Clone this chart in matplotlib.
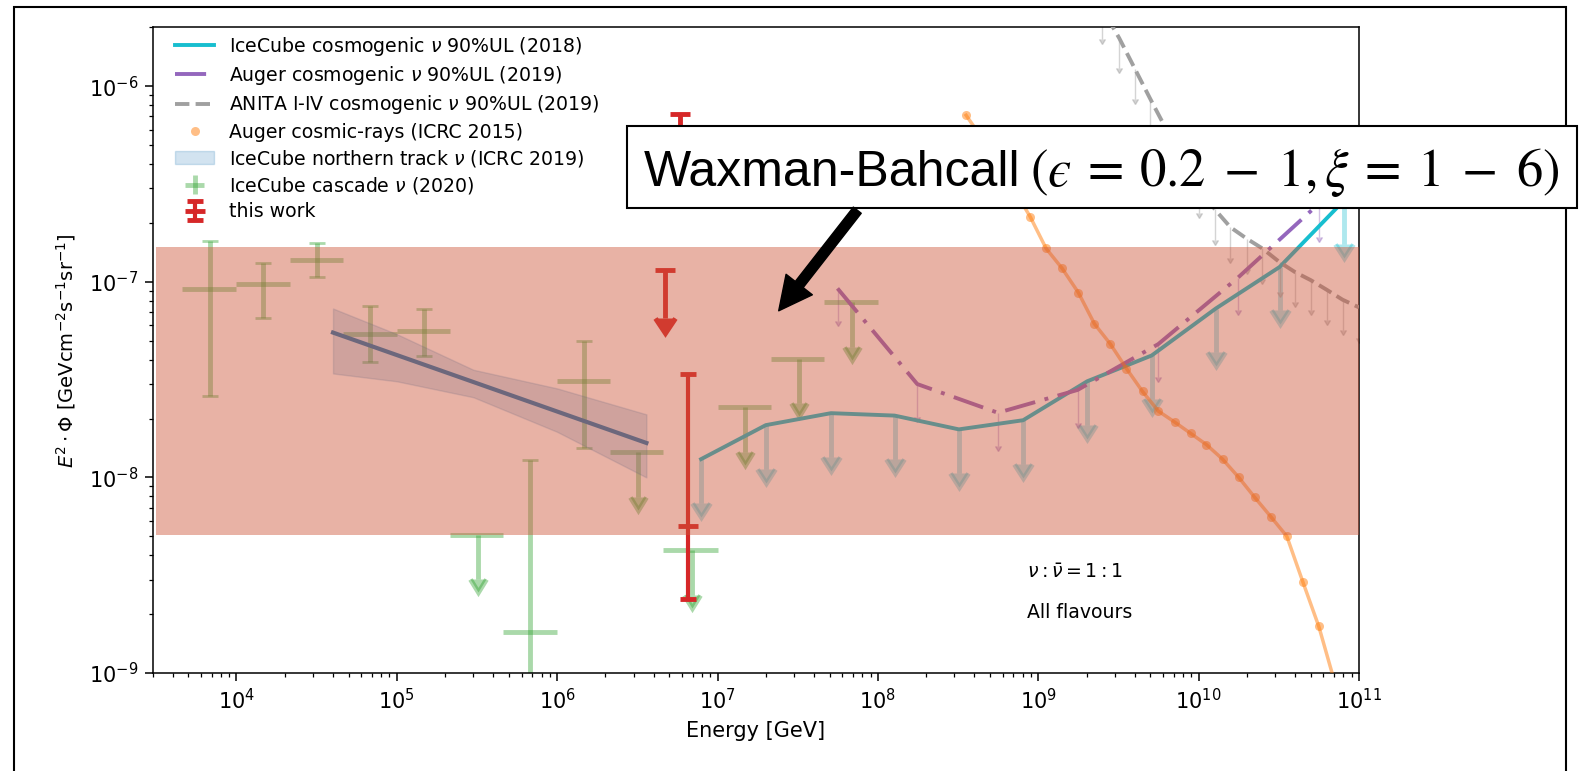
import numpy as np
import matplotlib.pyplot as plt
from matplotlib.patches import Rectangle, FancyArrowPatch

# values: E [GeV], E^2 Phi [GeV cm^-2 s^-1 sr^-1]

# IceCube cosmogenic nu 90% UL (2018)
ic_E = [7.9e6, 2.0e7, 5.1e7, 1.27e8, 3.2e8, 8.05e8, 2.02e9, 5.1e9, 1.28e10, 3.2e10, 8.05e10]
ic_F = [1.24e-8, 1.85e-8, 2.13e-8, 2.07e-8, 1.76e-8, 1.96e-8, 3.1e-8, 4.2e-8, 7.3e-8, 1.19e-7, 2.6e-7]

# Auger cosmogenic nu 90% UL (2019)
auger_nu_E = [5.6e7, 1.76e8, 5.6e8, 1.76e9, 5.6e9, 1.76e10, 5.6e10]
auger_nu_F = [9.25e-8, 3.0e-8, 2.14e-8, 2.8e-8, 4.8e-8, 1.05e-7, 2.5e-7]

# ANITA I-IV cosmogenic nu 90% UL (2019)
anita_E = [2.0e9, 2.5e9, 3.2e9, 4.0e9, 5.0e9, 6.3e9, 7.9e9, 1.0e10, 1.26e10, 1.58e10,
           2.0e10, 2.5e10, 3.2e10, 4.0e10, 5.0e10, 6.3e10, 7.9e10, 1.0e11]
anita_F = [3.5e-6, 2.5e-6, 1.76e-6, 1.23e-6, 8.6e-7, 6.0e-7, 4.4e-7, 3.2e-7, 2.35e-7, 1.9e-7,
           1.66e-7, 1.48e-7, 1.26e-7, 1.12e-7, 1.02e-7, 9.1e-8, 8.1e-8, 7.4e-8]

# Auger cosmic rays (ICRC 2015)
cr_E = [3.55e8, 4.47e8, 5.62e8, 7.08e8, 8.91e8, 1.12e9, 1.41e9, 1.78e9, 2.24e9, 2.82e9,
        3.55e9, 4.47e9, 5.62e9, 7.08e9, 8.91e9, 1.12e10, 1.41e10, 1.78e10, 2.24e10, 2.82e10,
        3.55e10, 4.47e10, 5.62e10, 7.08e10]
cr_F = [7.1e-7, 5.4e-7, 4.0e-7, 2.95e-7, 2.15e-7, 1.48e-7, 1.17e-7, 8.8e-8, 6.1e-8, 4.8e-8,
        3.6e-8, 2.75e-8, 2.18e-8, 1.92e-8, 1.68e-8, 1.47e-8, 1.24e-8, 1.0e-8, 7.9e-9, 6.3e-9,
        5.0e-9, 2.92e-9, 1.73e-9, 8.9e-10]

# IceCube northern track nu (ICRC 2019)
track_E = [4.0e4, 1.0e5, 3.0e5, 1.0e6, 3.6e6]
track_F = [5.5e-8, 4.3e-8, 3.17e-8, 2.26e-8, 1.5e-8]
track_hi = [7.3e-8, 5.4e-8, 3.55e-8, 2.85e-8, 2.1e-8]
track_lo = [3.4e-8, 3.1e-8, 2.57e-8, 1.71e-8, 1.0e-8]

# IceCube cascade nu (2020)
casc_E = [6.8e3, 1.46e4, 3.16e4, 6.8e4, 1.47e5, 3.2e5, 6.8e5, 1.48e6, 3.2e6, 6.9e6, 1.48e7, 3.2e7, 6.9e7]
casc_Elo = [4.6e3, 1.0e4, 2.15e4, 4.6e4, 1.0e5, 2.15e5, 4.6e5, 1.0e6, 2.15e6, 4.6e6, 1.0e7, 2.15e7, 4.6e7]
casc_Ehi = [1.0e4, 2.15e4, 4.6e4, 1.0e5, 2.15e5, 4.6e5, 1.0e6, 2.15e6, 4.6e6, 1.0e7, 2.15e7, 4.6e7, 1.0e8]
casc_F = [9.2e-8, 9.8e-8, 1.29e-7, 5.4e-8, 5.6e-8, 5.1e-9, 1.63e-9, 3.1e-8, 1.35e-8, 4.27e-9, 2.28e-8, 4.05e-8, 7.85e-8]
casc_hi = [1.61e-7, 1.25e-7, 1.58e-7, 7.5e-8, 7.3e-8, 5.1e-9, 1.23e-8, 5.0e-8, 1.35e-8, 4.27e-9, 2.28e-8, 4.05e-8, 7.85e-8]
casc_lo = [2.6e-8, 6.5e-8, 1.06e-7, 3.9e-8, 4.16e-8, 5.1e-9, 1e-10, 1.41e-8, 1.35e-8, 4.27e-9, 2.28e-8, 4.05e-8, 7.85e-8]
casc_ul = [False, False, False, False, False, True, False, False, True, True, True, True, True]

# this work
work_E = [5.8e6, 4.7e6]          # upper limits
work_F = [7.2e-7, 1.15e-7]
work_pt_E = 6.5e6                # measured point
work_pt_F = 5.65e-9
work_pt_lo = 2.38e-9
work_pt_hi = 3.37e-8

# Waxman-Bahcall band
wb_lo, wb_hi = 5.1e-9, 1.5e-7


def upper_limits(ax, E, F, frac, color, lw, size, alpha, **kw):
    F = np.asarray(F)
    eb = ax.errorbar(E, F, yerr=F * frac, uplims=True, fmt='none', color=color, ecolor=color,
                     elinewidth=lw, capsize=size, capthick=lw, alpha=alpha, **kw)
    # keep only the arrow heads
    for cl in eb[1]:
        if cl.get_marker() in ('_', '|'):
            cl.set_visible(False)
    return eb


plt.rcParams['font.family'] = ['DejaVu Sans']
plt.rcParams['font.size'] = 13.6

fig = plt.figure(figsize=(15.95, 7.71), dpi=100)
ax = fig.add_axes([0.0957, 0.1271, 0.7563, 0.8375])
ax.set_xscale('log')
ax.set_yscale('log')

# IceCube cosmogenic
h_ic, = ax.plot(ic_E, ic_F, color='tab:cyan', lw=2.8, zorder=3)
upper_limits(ax, ic_E, ic_F, 0.4, 'tab:cyan', 3.5, 6.5, 0.35)

# Auger cosmogenic
h_an, = ax.plot(auger_nu_E, auger_nu_F, color='tab:purple', lw=2.8, dashes=(8, 2.5, 1, 2.5), zorder=3)
upper_limits(ax, auger_nu_E, auger_nu_F, 0.32, 'tab:purple', 1.0, 2.5, 0.4)

# ANITA
h_anita, = ax.plot(anita_E, anita_F, color='#a0a0a0', lw=2.8, ls='--', zorder=3)
upper_limits(ax, anita_E, anita_F, 0.3, '#a0a0a0', 1.0, 2.5, 0.45)

# Auger cosmic rays
ax.plot(cr_E, cr_F, color='tab:orange', lw=2.5, alpha=0.5, zorder=3)
h_cr, = ax.plot(cr_E, cr_F, 'o', color='tab:orange', ms=6.5, alpha=0.5, mew=0, zorder=3)

# IceCube cascade
cE, cF = np.array(casc_E), np.array(casc_F)
cElo, cEhi = np.array(casc_Elo), np.array(casc_Ehi)
chi, clo = np.array(casc_hi), np.array(casc_lo)
ul = np.array(casc_ul)
m = ~ul
h_casc = ax.errorbar(cE[m], cF[m], xerr=[cE[m] - cElo[m], cEhi[m] - cE[m]],
                     yerr=[cF[m] - clo[m], chi[m] - cF[m]], fmt='none', color='tab:green',
                     ecolor='tab:green', elinewidth=3.5, capsize=5.5, capthick=2, alpha=0.4)
for cl in h_casc[1]:
    if cl.get_marker() == '|':
        cl.set_visible(False)
ax.errorbar(cE[ul], cF[ul], xerr=[cE[ul] - cElo[ul], cEhi[ul] - cE[ul]], fmt='none',
            ecolor='tab:green', elinewidth=3.5, alpha=0.4)
upper_limits(ax, cE[ul], cF[ul], 0.41, 'tab:green', 3.5, 6.0, 0.4)

# IceCube northern track
h_tr = ax.fill_between(track_E, track_lo, track_hi, color='tab:blue', alpha=0.2, zorder=3)
ax.plot([track_E[0], track_E[-1]], [track_F[0], track_F[-1]], color='tab:blue', lw=3, zorder=3)

# this work
eb = ax.errorbar(work_E, work_F, yerr=np.array(work_F) * 0.43, uplims=True, fmt='none',
                 color='tab:red', ecolor='tab:red', elinewidth=3.5, capsize=7,
                 capthick=3.5, zorder=4)
h_work = ax.errorbar([work_pt_E], [work_pt_F],
                     yerr=[[work_pt_F - work_pt_lo], [work_pt_hi - work_pt_F]],
                     fmt='_', color='tab:red', ms=14, mew=3.5, elinewidth=3, capsize=6,
                     capthick=3, zorder=4)

# Waxman-Bahcall band overlay
ax.axhspan(wb_lo, wb_hi, xmin=0.003, xmax=1, color='#CC5439', alpha=0.45, lw=0, zorder=10)

ax.set_xlim(3e3, 1e11)
ax.set_ylim(1e-9, 2e-6)
ax.set_xlabel('Energy [GeV]', fontsize=15, labelpad=6)
ax.set_ylabel(r'$E^2\cdot\Phi$ [GeVcm$^{-2}$s$^{-1}$sr$^{-1}$]', fontsize=14, labelpad=8)
ax.tick_params(which='major', labelsize=15, length=5.5, width=1.1, pad=5)
ax.tick_params(which='minor', length=3, width=0.9)
for s in ax.spines.values():
    s.set_linewidth(1.1)

ax.text(0.725, 0.155, r'$\nu:\bar{\nu}=1:1$', transform=ax.transAxes, fontsize=13.6, va='center')
ax.text(0.725, 0.094, 'All flavours', transform=ax.transAxes, fontsize=13.6, va='center')

ax.legend([h_ic, h_an, h_anita, h_cr, h_tr, h_casc, h_work],
          [r'IceCube cosmogenic $\nu$ 90%UL (2018)',
           r'Auger cosmogenic $\nu$ 90%UL (2019)',
           r'ANITA I-IV cosmogenic $\nu$ 90%UL (2019)',
           'Auger cosmic-rays (ICRC 2015)',
           r'IceCube northern track $\nu$ (ICRC 2019)',
           r'IceCube cascade $\nu$ (2020)',
           'this work'],
          loc='upper left', bbox_to_anchor=(0.012, 1.0), frameon=False, fontsize=13.6,
          labelspacing=0.33, handlelength=2.1, borderaxespad=0)

# slide annotations: outer frame, label box and arrow
fig.add_artist(Rectangle((14 / 1595, -0.02), 1552 / 1595, 1.011, transform=fig.transFigure,
                         fill=False, ec='black', lw=1.5, clip_on=False, zorder=19))
fig.add_artist(Rectangle((627 / 1595, 1 - 208 / 771), 950 / 1595, 82 / 771,
                         transform=fig.transFigure, fc='white', ec='black', lw=1.5,
                         clip_on=False, zorder=20))
baseline = 1 - 186 / 771
fig.text(644 / 1595, baseline, 'Waxman-Bahcall', fontsize=36, family='Liberation Sans',
         va='baseline', zorder=21)
fig.text(1030 / 1595, baseline,
         '$(\u03f5\\:=\\:0.2\\;-\\;1,\\xi\\:=\\:1\\;-\\;6)$',
         fontsize=38, math_fontfamily='stix', va='baseline', zorder=21)
fig.add_artist(FancyArrowPatch((859 / 1595, 1 - 208 / 771), (777 / 1595, 1 - 313 / 771),
                               transform=fig.transFigure,
                               arrowstyle='simple,head_length=1.0,head_width=1.0,tail_width=0.3',
                               mutation_scale=24, color='black', zorder=20))

fig.savefig('out.png', dpi=100)
